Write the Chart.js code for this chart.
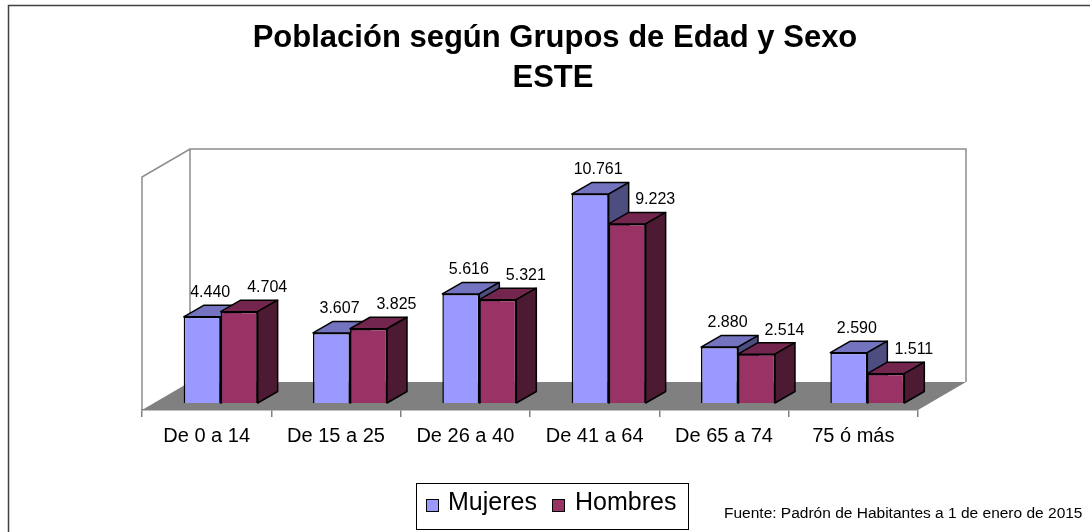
<!DOCTYPE html>
<html>
<head>
<meta charset="utf-8">
<script src="https://cdn.jsdelivr.net/npm/chart.js@4.4.1/dist/chart.umd.min.js"></script>
<style>
  html, body { margin: 0; background: #fff; }
</style>
</head>
<body>
<canvas id="grafico" width="1090" height="532"></canvas>
<script>
// datos
const grupos = ['De 0 a 14', 'De 15 a 25', 'De 26 a 40', 'De 41 a 64', 'De 65 a 74', '75 ó más'];
const mujeres = [4440, 3607, 5616, 10761, 2880, 2590];
const hombres = [4704, 3825, 5321, 9223, 2514, 1511];
const titulo = ['Población según Grupos de Edad y Sexo', 'ESTE'];
const fuente = 'Fuente: Padrón de Habitantes a 1 de enero de 2015';
const escalaMax = 12000;

const FUENTE = '"Liberation Sans", Arial, sans-serif';

// profundidad del suelo, de cada barra y desplazamiento de la fila de barras
const FONDO = { dx: 48, dy: -28 };
const BARRA = { dx: 20, dy: -11.5 };
const FILA = { dx: 14, dy: -7 };

const caras = [
    { top: '#7373bf', side: '#4d4d80' },
    { top: '#73264d', side: '#4d1a33' }
];

const fmt = v => v.toString().replace(/\B(?=(\d{3})+(?!\d))/g, '.');

const poly = (ctx, pts, fill) => {
    ctx.beginPath();
    ctx.moveTo(pts[0][0], pts[0][1]);
    for (let i = 1; i < pts.length; i++) ctx.lineTo(pts[i][0], pts[i][1]);
    ctx.closePath();
    ctx.fillStyle = fill;
    ctx.fill();
    ctx.stroke();
};

const grafico3d = {
    id: 'grafico3d',
    beforeDraw(chart) {
        const { ctx, chartArea: a } = chart;
        ctx.save();
        // marco exterior
        ctx.strokeStyle = '#404040';
        ctx.lineWidth = 1.5;
        ctx.strokeRect(8.5, 5.5, 1300, 700);

        // suelo
        ctx.fillStyle = '#808080';
        ctx.beginPath();
        ctx.moveTo(a.left, a.bottom);
        ctx.lineTo(a.right, a.bottom);
        ctx.lineTo(a.right + FONDO.dx, a.bottom + FONDO.dy);
        ctx.lineTo(a.left + FONDO.dx, a.bottom + FONDO.dy);
        ctx.closePath();
        ctx.fill();

        // paredes
        ctx.strokeStyle = '#8c8c8c';
        ctx.lineWidth = 1.5;
        ctx.beginPath();
        ctx.moveTo(a.left, a.bottom);
        ctx.lineTo(a.left, a.top);
        ctx.lineTo(a.left + FONDO.dx, a.top + FONDO.dy);
        ctx.lineTo(a.right + FONDO.dx, a.top + FONDO.dy);
        ctx.lineTo(a.right + FONDO.dx, a.bottom + FONDO.dy);
        ctx.moveTo(a.left + FONDO.dx, a.top + FONDO.dy);
        ctx.lineTo(a.left + FONDO.dx, a.bottom + FONDO.dy);
        ctx.stroke();
        ctx.restore();
    },
    beforeDatasetsDraw(chart) {
        const ctx = chart.ctx;
        ctx.save();
        ctx.translate(FILA.dx, FILA.dy);
        ctx.strokeStyle = '#000';
        ctx.lineWidth = 1.5;
        ctx.lineJoin = 'round';
        chart.data.datasets.forEach((ds, i) => {
            chart.getDatasetMeta(i).data.forEach(bar => {
                const { x, y, base, width } = bar.getProps(['x', 'y', 'base', 'width'], true);
                const l = x - width / 2, r = x + width / 2;
                poly(ctx, [[l, y], [r, y], [r + BARRA.dx, y + BARRA.dy], [l + BARRA.dx, y + BARRA.dy]], caras[i].top);
                poly(ctx, [[r, y], [r, base], [r + BARRA.dx, base + BARRA.dy], [r + BARRA.dx, y + BARRA.dy]], caras[i].side);
            });
        });
    },
    afterDatasetsDraw(chart) {
        const ctx = chart.ctx;
        // etiquetas de valor (todavia con el desplazamiento de la fila)
        ctx.fillStyle = '#000';
        ctx.font = '16px ' + FUENTE;
        ctx.textAlign = 'center';
        ctx.textBaseline = 'middle';
        chart.data.datasets.forEach((ds, i) => {
            chart.getDatasetMeta(i).data.forEach((bar, j) => {
                const off = i === 0 ? 8 : 28;
                ctx.fillText(fmt(ds.data[j]), bar.x + off, bar.y - 24);
            });
        });
        ctx.restore();
    },
    afterDraw(chart) {
        const ctx = chart.ctx;
        ctx.save();
        ctx.fillStyle = '#000';
        ctx.textAlign = 'center';
        ctx.textBaseline = 'middle';
        ctx.font = 'bold 31px ' + FUENTE;
        ctx.fillText(titulo[0], 555, 38);
        ctx.fillText(titulo[1], 553, 78);

        // leyenda
        ctx.strokeStyle = '#000';
        ctx.lineWidth = 1;
        ctx.strokeRect(416.5, 483.5, 272, 46);
        ctx.font = '25px ' + FUENTE;
        ctx.textAlign = 'left';
        const items = [[426, 448], [552, 575]];
        chart.data.datasets.forEach((ds, i) => {
            ctx.fillStyle = ds.backgroundColor;
            ctx.fillRect(items[i][0] + 0.5, 499.5, 12, 12);
            ctx.strokeRect(items[i][0] + 0.5, 499.5, 12, 12);
            ctx.fillStyle = '#000';
            ctx.fillText(ds.label, items[i][1], 503);
        });

        // fuente
        ctx.font = '15.5px ' + FUENTE;
        ctx.fillText(fuente, 724, 514);
        ctx.restore();
    }
};

new Chart(document.getElementById('grafico'), {
    type: 'bar',
    data: {
        labels: grupos,
        datasets: [
            { label: 'Mujeres', data: mujeres, backgroundColor: '#9999ff', borderColor: '#000', borderWidth: 1.5 },
            { label: 'Hombres', data: hombres, backgroundColor: '#993366', borderColor: '#000', borderWidth: 1.5 }
        ]
    },
    options: {
        responsive: false,
        animation: false,
        layout: { padding: { left: 142, right: 172, top: 177, bottom: 0 } },
        datasets: { bar: { categoryPercentage: 0.572, barPercentage: 1, clip: false } },
        plugins: {
            legend: { display: false },
            title: { display: false },
            tooltip: { enabled: false }
        },
        scales: {
            x: {
                grid: { display: true, drawOnChartArea: false, drawTicks: true, tickLength: 7, color: '#808080', lineWidth: 1.5 },
                border: { display: true, color: '#808080', width: 1.5 },
                ticks: { color: '#000', font: { family: FUENTE, size: 20 }, padding: 7, maxRotation: 0, autoSkip: false },
                afterFit(s) { s.height = 122; }
            },
            y: { display: false, min: 0, max: escalaMax }
        }
    },
    plugins: [grafico3d]
});
</script>
</body>
</html>
